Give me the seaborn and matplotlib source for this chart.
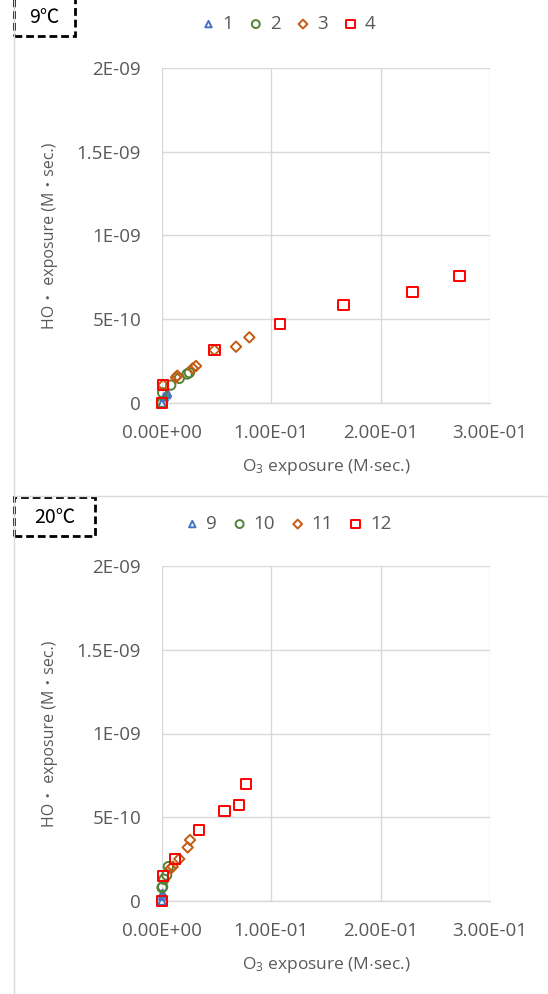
import matplotlib
matplotlib.use("Agg")
import matplotlib.pyplot as plt
import seaborn as sns
from matplotlib.lines import Line2D
from matplotlib.patches import Rectangle

# ---- data (x: O3 exposure, y: HO· exposure, M·sec.) ----
# 9 ℃ panel
top_labels = ["1", "2", "3", "4"]
top_x1 = [0.0, 0.002, 0.004, 0.005]
top_y1 = [0.0, 3.6e-11, 5.0e-11, 6.0e-11]
top_x2 = [0.0, 0.0006, 0.008, 0.0158, 0.023, 0.025]
top_y2 = [0.0, 6.1e-11, 1.07e-10, 1.47e-10, 1.73e-10, 1.81e-10]
top_x3 = [0.001, 0.0128, 0.014, 0.0281, 0.0311, 0.0479, 0.0677, 0.0799]
top_y3 = [1.07e-10, 1.53e-10, 1.63e-10, 2.07e-10, 2.21e-10, 3.16e-10, 3.36e-10, 3.92e-10]
top_x4 = [0.0, 0.0006, 0.0479, 0.108, 0.166, 0.229, 0.272]
top_y4 = [0.0, 1.07e-10, 3.16e-10, 4.72e-10, 5.85e-10, 6.63e-10, 7.58e-10]

# 20 ℃ panel
bot_labels = ["9", "10", "11", "12"]
bot_x1 = [0.0, 0.0006, 0.0006]
bot_y1 = [0.0, 3.0e-11, 4.6e-11]
bot_x2 = [0.0, 0.0006, 0.0018, 0.0043, 0.0058]
bot_y2 = [8.0e-11, 8.5e-11, 1.30e-10, 1.55e-10, 2.05e-10]
bot_x3 = [0.008, 0.0098, 0.0158, 0.0235, 0.0256]
bot_y3 = [1.95e-10, 2.05e-10, 2.51e-10, 3.20e-10, 3.64e-10]
bot_x4 = [0.0, 0.0006, 0.0119, 0.0339, 0.0573, 0.0707, 0.0769]
bot_y4 = [0.0, 1.49e-10, 2.51e-10, 4.22e-10, 5.37e-10, 5.73e-10, 6.98e-10]

x_ticks = [0.0, 0.1, 0.2, 0.3]
x_tick_labels = ["0.00E+00", "1.00E-01", "2.00E-01", "3.00E-01"]
y_ticks = [0.0, 5e-10, 1e-09, 1.5e-09, 2e-09]
y_tick_labels = ["0", "5E-10", "1E-09", "1.5E-09", "2E-09"]

markers = ["^", "o", "D", "s"]
colors = ["#4472C4", "#548235", "#C55A11", "#FF0000"]
sizes = [30, 45, 28, 55]

sns.set_style("white")
plt.rcParams["font.family"] = ["Open Sans", "Noto Sans CJK JP", "DejaVu Sans"]
plt.rcParams["mathtext.fontset"] = "custom"
plt.rcParams["mathtext.rm"] = "Open Sans"
plt.rcParams["mathtext.it"] = "Open Sans:italic"

GRAY = "#595959"
GRID = "#d9d9d9"

W, H = 548, 994
fig = plt.figure(figsize=(W / 100, H / 100), dpi=100)


def fx(px):
    return px / W


def fy(py):
    return 1 - py / H


def draw_panel(ax, xs, ys, labels, legend_y):
    for x, y, lab, m, c, s in zip(xs, ys, labels, markers, colors, sizes):
        sns.scatterplot(x=x, y=y, ax=ax, marker=m, s=s, color="none",
                        edgecolor=c, linewidth=1.4, label=lab, clip_on=False,
                        zorder=3)
    ax.set_xlim(0, 0.3)
    ax.set_ylim(0, 2e-09)
    ax.set_xticks(x_ticks)
    ax.set_xticklabels(x_tick_labels)
    ax.set_yticks(y_ticks)
    ax.set_yticklabels(y_tick_labels)
    ax.grid(True, color=GRID, linewidth=1)
    for side in ["top", "right", "left"]:
        ax.spines[side].set_visible(False)
    ax.spines["bottom"].set_color(GRID)
    ax.spines["bottom"].set_linewidth(1)
    ax.tick_params(axis="x", length=5, width=1, color=GRID, labelcolor=GRAY,
                   labelsize=13.5, pad=10)
    ax.tick_params(axis="y", length=0, labelcolor=GRAY, labelsize=13.5, pad=15)
    ax.set_xlabel(r"O$_3$ exposure (M$\cdot$sec.)", color=GRAY, fontsize=12.5,
                  va="center")
    ax.xaxis.set_label_coords(0.5, -0.19)
    ax.set_ylabel("HO\u30fb exposure (M\u30fbsec.)", color=GRAY, fontsize=11.5,
                  va="center")
    ax.yaxis.set_label_coords(-0.34, 0.5)
    ax.legend(loc="center", bbox_to_anchor=(fx(288), legend_y),
              bbox_transform=fig.transFigure, ncol=4, frameon=False,
              fontsize=13.5, labelcolor=GRAY, handlelength=0.8,
              handletextpad=0.35, columnspacing=0.8, markerscale=0.85)


ax_top = fig.add_axes([fx(162), fy(403), fx(490) - fx(162), fy(68) - fy(403)])
draw_panel(ax_top, [top_x1, top_x2, top_x3, top_x4],
           [top_y1, top_y2, top_y3, top_y4], top_labels, fy(24))

ax_bot = fig.add_axes([fx(162), fy(901), fx(490) - fx(162), fy(566) - fy(901)])
draw_panel(ax_bot, [bot_x1, bot_x2, bot_x3, bot_x4],
           [bot_y1, bot_y2, bot_y3, bot_y4], bot_labels, fy(524))

# frame lines of the pasted sheet
fig.add_artist(Line2D([fx(14), fx(14)], [0, 1], color=GRID, lw=1))
fig.add_artist(Line2D([fx(14), 1], [fy(496), fy(496)], color=GRID, lw=1))

# temperature tags in dashed boxes
for (x0, y0, x1, y1, txt) in [(14, -3, 75, 36, "9\u2103"),
                              (14, 497, 95, 536, "20\u2103")]:
    fig.add_artist(Rectangle((fx(x0), fy(y1)), fx(x1) - fx(x0), fy(y0) - fy(y1),
                             transform=fig.transFigure, fill=False,
                             edgecolor="black", lw=2, linestyle=(0, (2.8, 1.4))))
    fig.text(fx((x0 + x1) / 2), fy((y0 + y1) / 2 + 1), txt, ha="center",
             va="center", fontsize=14, color="black",
             family=["Noto Sans CJK JP", "DejaVu Sans"])

fig.savefig("out.png", dpi=100)
